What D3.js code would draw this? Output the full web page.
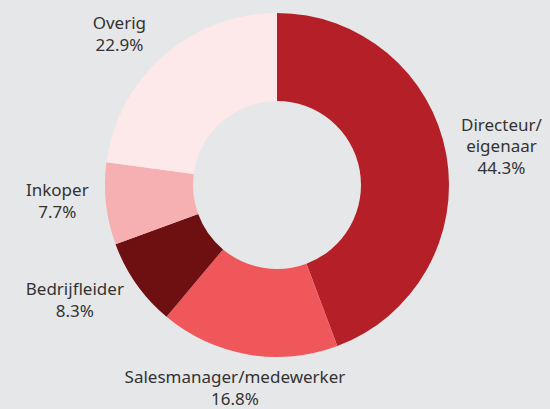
<!DOCTYPE html>
<html>
<head>
<meta charset="utf-8">
<script src="https://cdn.jsdelivr.net/npm/d3@7"></script>
<style>
  html, body { margin: 0; padding: 0; background: #e6e7e8; }
  svg { display: block; }
  text { font-family: "Noto Sans", sans-serif; font-size: 17px; fill: #333333; }
</style>
</head>
<body>
<div id="chart"></div>
<script>
// data
var categories = ["Directeur/eigenaar", "Salesmanager/medewerker", "Bedrijfleider", "Inkoper", "Overig"];
var labelLines = [["Directeur/", "eigenaar"], ["Salesmanager/medewerker"], ["Bedrijfleider"], ["Inkoper"], ["Overig"]];
var values = [44.3, 16.8, 8.3, 7.7, 22.9];
var colors = ["#b51f28", "#ef575b", "#6e0f12", "#f7b0b1", "#fde9ea"];

var width = 550, height = 409;
var cx = 277, cy = 185;
var outerR = 172, innerR = 84, labelR = 188;
// small hand tweaks so the labels sit where the original puts them
var labelNudge = [[-4, 2], [-6, -8], [-5, -24], [0, -9], [-11, 16]];

function createChart(div) {
	var svg = d3.select("#" + div).append("svg")
		.attr("width", width).attr("height", height);
	svg.append("rect").attr("width", width).attr("height", height).attr("fill", "#e6e7e8");
	return svg;
}

function drawDonut(svg) {
	var pie = d3.pie().sort(null).value(function(d) { return d; });
	var arcs = pie(values);
	var arc = d3.arc().innerRadius(innerR).outerRadius(outerR);
	var g = svg.append("g").attr("transform", "translate(" + cx + "," + cy + ")");
	g.selectAll("path").data(arcs).enter().append("path")
		.attr("d", arc)
		.attr("fill", function(d, i) { return colors[i]; });
	return arcs;
}

// distance from centre to the nearest point of a box
function boxDistance(bx, by, w, h) {
	var dx = Math.max(Math.abs(bx) - w / 2, 0);
	var dy = Math.max(Math.abs(by) - h / 2, 0);
	return Math.sqrt(dx * dx + dy * dy);
}

function drawLabels(svg, arcs) {
	var i = 0;
	for (i; i < arcs.length; i++) {
		var text = svg.append("text").attr("text-anchor", "middle");
		var lines = labelLines[i].concat([values[i].toFixed(1) + "%"]);
		lines.forEach(function(line, k) {
			text.append("tspan").attr("x", 0).attr("dy", k == 0 ? 0 : 21.5).text(line);
		});
		var box = text.node().getBBox();
		var mid = (arcs[i].startAngle + arcs[i].endAngle) / 2;
		var ux = Math.sin(mid), uy = -Math.cos(mid);
		var t = outerR;
		while (boxDistance(ux * t, uy * t, box.width, box.height) < labelR) {
			t += 0.5;
		}
		var px = cx + ux * t - (box.x + box.width / 2) + labelNudge[i][0];
		var py = cy + uy * t - (box.y + box.height / 2) + labelNudge[i][1];
		text.attr("transform", "translate(" + px + "," + py + ")");
	}
}

var svg = createChart("chart");
var arcs = drawDonut(svg);
drawLabels(svg, arcs);
</script>
</body>
</html>
